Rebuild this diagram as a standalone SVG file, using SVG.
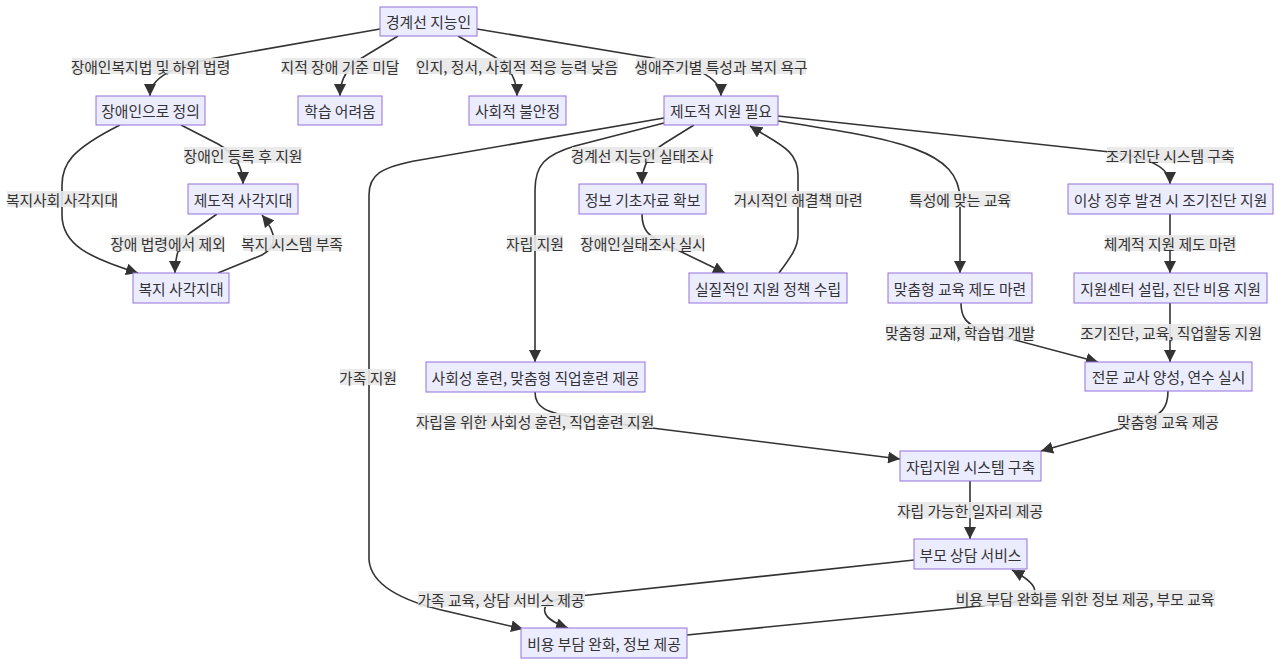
<svg xmlns="http://www.w3.org/2000/svg" width="1280" height="665" viewBox="0 0 1280 665">
<style>
.node rect{fill:#ECECFF;stroke:#9370DB;stroke-width:1}
.node text,.lbl text{font-family:"Noto Sans CJK KR","Noto Sans",sans-serif;font-size:14.8px;fill:#333;text-anchor:middle;dominant-baseline:central}
.lbl rect{fill:#e8e8e8;opacity:0.9}
.edge{fill:none;stroke:#333;stroke-width:1.6}
</style>
<defs>
<marker id="arr" markerUnits="userSpaceOnUse" markerWidth="12" markerHeight="12" viewBox="0 0 10 10" refX="10" refY="5" orient="auto">
<path d="M0,0 L10,5 L0,10 z" fill="#333"/>
</marker>
</defs>
<rect width="1280" height="665" fill="#fff"/>
<g id="connectors">
<path class="edge" marker-end="url(#arr)" d="M380,29 L215,58 Q150,70 150,96"/>
<path class="edge" marker-end="url(#arr)" d="M398,36 L365,56 Q340,70 340,96"/>
<path class="edge" marker-end="url(#arr)" d="M458,36 L493,56 Q517,70 517,96"/>
<path class="edge" marker-end="url(#arr)" d="M477,29 L640,56 Q721,68 721,96"/>
<path class="edge" marker-end="url(#arr)" d="M181,125 L218,144 Q243,158 243,184"/>
<path class="edge" marker-end="url(#arr)" d="M120,125 C70,150 62,165 62,185 L62,215 C62,245 90,258 138,273"/>
<path class="edge" marker-end="url(#arr)" d="M217,214 L190,233 Q175,245 175,273"/>
<path class="edge" marker-end="url(#arr)" d="M218,273 L262,255 Q285,243 262,215"/>
<path class="edge" marker-end="url(#arr)" d="M664,118 L420,160 C380,167 369,175 369,195 L369,560 Q372,595 450,612 L523,629"/>
<path class="edge" marker-end="url(#arr)" d="M694,125 L665,143 Q642,157 642,184"/>
<path class="edge" marker-end="url(#arr)" d="M664,123 L575,146 C545,155 535,165 535,190 L535,362"/>
<path class="edge" marker-end="url(#arr)" d="M642,214 C642,230 648,236 665,244 L725,273"/>
<path class="edge" marker-end="url(#arr)" d="M779,273 C790,258 798,248 798,235 L798,175 C798,150 780,145 750,126"/>
<path class="edge" marker-end="url(#arr)" d="M778,121 C900,140 960,150 960,200 L960,273"/>
<path class="edge" marker-end="url(#arr)" d="M778,116 L1110,152 Q1170,160 1170,184"/>
<path class="edge" marker-end="url(#arr)" d="M1170,214 L1170,273"/>
<path class="edge" marker-end="url(#arr)" d="M961,303 C961,318 966,324 985,332 L1098,362"/>
<path class="edge" marker-end="url(#arr)" d="M1170,303 L1170,362"/>
<path class="edge" marker-end="url(#arr)" d="M1168,391 C1168,408 1162,415 1140,423 L1041,451"/>
<path class="edge" marker-end="url(#arr)" d="M535,392 C535,408 545,412 580,419 L900,459"/>
<path class="edge" marker-end="url(#arr)" d="M970,481 L970,539"/>
<path class="edge" marker-end="url(#arr)" d="M914,560 L570,597 C535,601 538,618 568,628"/>
<path class="edge" marker-end="url(#arr)" d="M687,635 L1010,603 C1045,598 1040,585 1012,570"/>
</g>
<g id="edge-labels">
<g class="lbl"><rect x="72" y="58" width="157" height="16"/><text x="150.5" y="66">장애인복지법 및 하위 법령</text></g>
<g class="lbl"><rect x="282" y="58" width="116" height="16"/><text x="340" y="66">지적 장애 기준 미달</text></g>
<g class="lbl"><rect x="416" y="58" width="202" height="16"/><text x="517" y="66">인지, 정서, 사회적 적응 능력 낮음</text></g>
<g class="lbl"><rect x="636" y="58" width="170" height="16"/><text x="721" y="66">생애주기별 특성과 복지 욕구</text></g>
<g class="lbl"><rect x="184" y="147" width="118" height="16"/><text x="243" y="155">장애인 등록 후 지원</text></g>
<g class="lbl"><rect x="7" y="191" width="110" height="16"/><text x="62" y="199">복지사회 사각지대</text></g>
<g class="lbl"><rect x="112" y="235" width="112" height="16"/><text x="168" y="243">장애 법령에서 제외</text></g>
<g class="lbl"><rect x="243" y="235" width="99" height="16"/><text x="292" y="243">복지 시스템 부족</text></g>
<g class="lbl"><rect x="340" y="369" width="56" height="16"/><text x="368" y="377">가족 지원</text></g>
<g class="lbl"><rect x="572" y="147" width="141" height="16"/><text x="642" y="155">경계선 지능인 실태조사</text></g>
<g class="lbl"><rect x="507" y="235" width="56" height="16"/><text x="535" y="243">자립 지원</text></g>
<g class="lbl"><rect x="582" y="235" width="122" height="16"/><text x="643" y="243">장애인실태조사 실시</text></g>
<g class="lbl"><rect x="735" y="191" width="127" height="16"/><text x="798" y="199">거시적인 해결책 마련</text></g>
<g class="lbl"><rect x="910" y="191" width="101" height="16"/><text x="960" y="199">특성에 맞는 교육</text></g>
<g class="lbl"><rect x="1107" y="147" width="127" height="16"/><text x="1170" y="155">조기진단 시스템 구축</text></g>
<g class="lbl"><rect x="1105" y="235" width="131" height="16"/><text x="1170" y="243">체계적 지원 제도 마련</text></g>
<g class="lbl"><rect x="886" y="324" width="148" height="16"/><text x="960" y="332">맞춤형 교재, 학습법 개발</text></g>
<g class="lbl"><rect x="1081" y="324" width="180" height="16"/><text x="1171" y="332">조기진단, 교육, 직업활동 지원</text></g>
<g class="lbl"><rect x="1118" y="413" width="100" height="16"/><text x="1168" y="421">맞춤형 교육 제공</text></g>
<g class="lbl"><rect x="417" y="413" width="236" height="16"/><text x="535" y="421">자립을 위한 사회성 훈련, 직업훈련 지원</text></g>
<g class="lbl"><rect x="899" y="502" width="143" height="16"/><text x="970" y="510">자립 가능한 일자리 제공</text></g>
<g class="lbl"><rect x="418" y="591" width="167" height="16"/><text x="501" y="599">가족 교육, 상담 서비스 제공</text></g>
<g class="lbl"><rect x="956" y="590" width="259" height="16"/><text x="1085" y="598">비용 부담 완화를 위한 정보 제공, 부모 교육</text></g>
</g>
<g id="n-root" class="node"><rect x="380" y="7" width="97" height="29"/><text x="428.5" y="21.5">경계선 지능인</text></g>
<g id="n-define" class="node"><rect x="96" y="96" width="109" height="29"/><text x="150.5" y="110.5">장애인으로 정의</text></g>
<g id="n-learn" class="node"><rect x="298" y="96" width="84" height="29"/><text x="340" y="110.5">학습 어려움</text></g>
<g id="n-social" class="node"><rect x="469" y="96" width="97" height="29"/><text x="517.5" y="110.5">사회적 불안정</text></g>
<g id="n-inst" class="node"><rect x="664" y="96" width="114" height="29"/><text x="721" y="110.5">제도적 지원 필요</text></g>
<g id="n-instblind" class="node"><rect x="188" y="184" width="110" height="30"/><text x="243" y="199">제도적 사각지대</text></g>
<g id="n-welfblind" class="node"><rect x="133" y="273" width="96" height="30"/><text x="181" y="288">복지 사각지대</text></g>
<g id="n-info" class="node"><rect x="579" y="184" width="127" height="30"/><text x="642.5" y="199">정보 기초자료 확보</text></g>
<g id="n-policy" class="node"><rect x="689" y="273" width="158" height="30"/><text x="768" y="288">실질적인 지원 정책 수립</text></g>
<g id="n-early" class="node"><rect x="1068" y="184" width="205" height="30"/><text x="1170.5" y="199">이상 징후 발견 시 조기진단 지원</text></g>
<g id="n-edu" class="node"><rect x="888" y="273" width="144" height="30"/><text x="960" y="288">맞춤형 교육 제도 마련</text></g>
<g id="n-center" class="node"><rect x="1074" y="273" width="193" height="30"/><text x="1170.5" y="288">지원센터 설립, 진단 비용 지원</text></g>
<g id="n-train" class="node"><rect x="426" y="362" width="219" height="30"/><text x="535.5" y="377">사회성 훈련, 맞춤형 직업훈련 제공</text></g>
<g id="n-teacher" class="node"><rect x="1085" y="362" width="167" height="29"/><text x="1168.5" y="376.5">전문 교사 양성, 연수 실시</text></g>
<g id="n-indep" class="node"><rect x="900" y="451" width="141" height="30"/><text x="970.5" y="466">자립지원 시스템 구축</text></g>
<g id="n-parent" class="node"><rect x="914" y="539" width="113" height="30"/><text x="970.5" y="554">부모 상담 서비스</text></g>
<g id="n-cost" class="node"><rect x="521" y="628" width="166" height="30"/><text x="604" y="643">비용 부담 완화, 정보 제공</text></g>
</svg>
